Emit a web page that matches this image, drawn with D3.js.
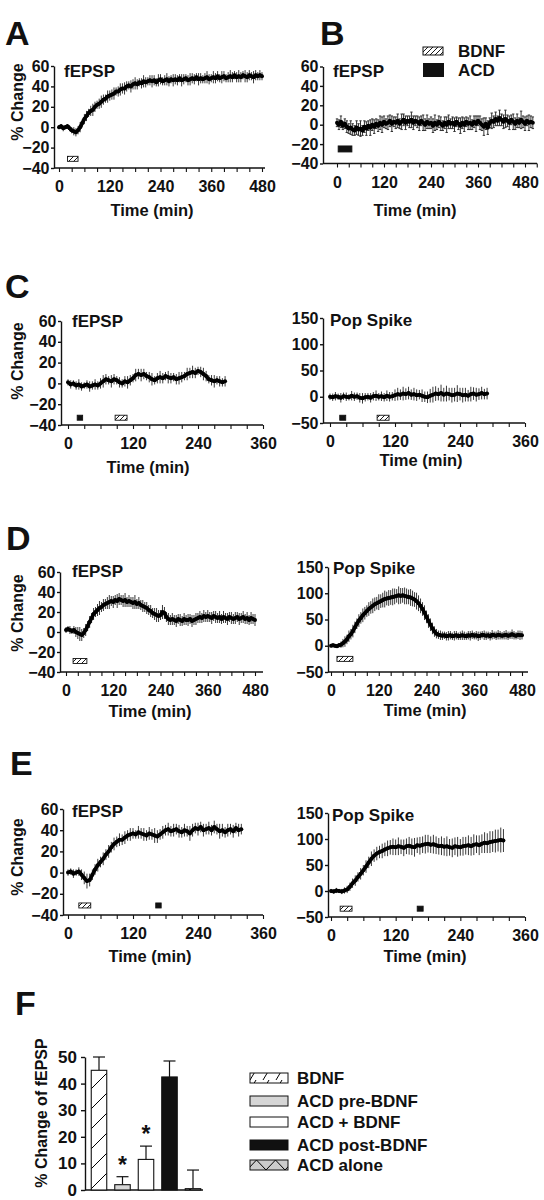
<!DOCTYPE html>
<html><head><meta charset="utf-8">
<script src="https://cdn.jsdelivr.net/npm/d3@7/dist/d3.min.js"></script>
<style>
body{margin:0;background:#fff}
svg text{font-family:"Liberation Sans",Arial,Helvetica,sans-serif;font-weight:bold;fill:#111}
</style>
</head><body><svg id="fig" width="544" height="1200"></svg>
<script>
// sampling interval of the traces (min)
const STEP = 5;

// ---------- Panel A: BDNF, fEPSP (0..480 min) ----------
const aVals = [0,1,-1,0,1,-1,-3,-4,-5,-3,
  0,4,8,11,14,16,17,20,22,23,
  25,27,28,30,31,32,33,35,35,37,
  38,38,40,41,40,42,43,42,44,43,
  45,44,45,46,45,46,44,46,47,45,
  46,47,45,47,46,47,46,48,46,47,
  48,46,47,48,47,49,47,48,47,48,
  49,47,48,49,48,50,48,49,50,48,
  49,50,49,51,49,50,49,51,50,49,
  51,50,49,51,50,51,50];
const aErr = [2,2,3,2,2,3,3,4,4,4,
  5,4,5,5,4,5,6,5,4,5,
  6,5,4,6,5,5,6,4,5,6,
  5,6,5,4,6,5,6,5,4,5,
  6,5,4,5,6,5,4,6,5,4,
  5,6,5,4,6,5,5,4,6,5,
  4,5,6,5,5,4,6,5,4,5,
  6,5,4,6,5,5,4,6,5,4,
  5,6,5,4,5,6,5,4,6,5,
  5,4,6,5,4,5,4];
const stimA = [{type:"BDNF", start:20, end:45}];

// ---------- Panel B: ACD, fEPSP (0..500 min) ----------
const bVals = [2,0,3,-1,1,-2,-4,-3,-5,-6,
  -3,-5,-4,-6,-2,-4,-1,-3,0,-2,
  1,-1,2,0,3,1,2,4,1,3,
  2,4,1,3,5,2,4,3,5,2,
  4,3,1,4,2,0,3,1,2,-1,
  2,0,3,1,-1,2,0,3,1,2,
  0,3,1,-1,2,0,3,1,2,0,
  3,1,4,2,0,-2,1,-3,2,4,
  3,6,4,7,5,3,6,4,2,5,
  3,1,4,2,5,3,1,4,2,3,
  2];
const bErr = [4,5,6,4,5,6,5,7,6,5,
  7,6,8,5,6,7,5,8,6,7,
  5,6,7,8,6,5,7,6,8,5,
  6,7,5,8,6,7,5,6,8,7,
  5,6,7,5,8,6,7,5,6,7,
  8,5,6,7,5,6,8,7,5,6,
  7,5,6,8,6,7,5,6,7,5,
  6,8,5,7,6,9,6,7,5,8,
  6,7,5,8,6,7,9,6,7,5,
  8,6,7,5,9,6,7,5,8,6,
  6];
const stimB = [{type:"ACD", start:3, end:38}];

// ---------- Panel C: ACD then BDNF (0..290 min) ----------
const cfVals = [1,-1,0,-2,-1,-3,-2,-1,-3,-2,
  -1,-2,0,2,4,3,2,4,3,1,
  0,2,1,3,5,8,9,8,9,7,
  6,4,3,5,6,5,7,6,5,6,
  4,5,6,7,9,10,11,10,12,11,
  9,7,4,3,2,3,2,1,2];
const cfErr = [3,4,3,4,5,4,3,4,5,4,
  5,4,5,6,5,4,6,5,4,5,
  4,5,6,5,4,6,5,6,5,4,
  5,6,4,5,6,5,4,6,5,4,
  5,6,5,4,6,5,6,5,4,5,
  6,5,4,5,6,4,5,4,5];
const cpVals = [0,-1,1,0,-2,1,0,-1,2,0,
  1,-2,-3,-1,0,-2,1,2,0,1,
  -1,2,0,1,3,5,4,6,5,7,
  4,5,3,4,2,0,-1,2,4,6,
  5,7,4,6,5,3,4,6,5,3,
  4,2,5,6,4,5,7,5,6];
const cpErr = [6,7,8,6,9,7,8,6,9,8,
  7,9,10,8,7,9,8,10,7,9,
  8,10,9,8,11,12,10,13,11,12,
  10,12,11,9,12,10,11,13,15,14,
  12,16,13,15,12,14,13,16,12,14,
  13,11,14,12,13,11,12,10,11];
const stimCf = [{type:"ACD", start:17, end:27},{type:"BDNF", start:87, end:109}];
const stimCp = [{type:"ACD", start:18, end:29},{type:"BDNF", start:87, end:109}];

// ---------- Panel D: BDNF (0..480 min) ----------
const dfVals = [2,3,2,1,2,0,-1,-2,-3,-1,
  2,6,10,14,18,20,22,24,25,27,
  28,29,30,31,30,32,31,33,32,31,
  32,30,31,30,29,30,28,29,27,26,
  25,24,22,21,19,18,17,16,17,20,
  19,15,13,12,13,12,11,13,12,11,
  13,12,12,13,11,12,13,14,15,14,
  16,15,16,15,14,16,15,14,15,13,
  15,14,13,15,14,13,14,15,13,14,
  15,13,14,12,14,13,12];
const dfErr = [3,3,4,3,4,5,6,7,6,5,
  6,5,6,5,6,5,6,7,5,6,
  5,6,7,5,6,5,7,6,5,6,
  7,5,6,5,6,7,5,6,5,6,
  5,6,5,6,5,6,7,6,5,7,
  6,5,6,5,6,5,6,5,6,5,
  6,5,6,5,6,5,6,5,6,5,
  6,5,6,5,6,5,6,5,6,5,
  6,5,6,5,6,5,6,5,6,5,
  6,5,6,5,6,5,6];
const dpVals = [0,1,0,-1,1,2,5,8,12,18,
  22,28,35,42,48,53,58,62,66,70,
  73,76,79,81,83,85,87,89,90,91,
  92,93,94,95,96,95,96,95,94,93,
  92,90,88,85,81,76,70,63,55,47,
  40,33,27,23,21,20,19,20,18,19,
  20,18,19,20,18,19,20,19,18,20,
  19,21,19,20,18,19,21,20,19,20,
  18,21,20,19,21,20,19,20,21,19,
  20,22,20,19,21,20,20];
const dpErr = [3,3,3,3,4,6,8,10,9,11,
  10,12,11,10,12,11,13,12,11,13,
  12,14,13,12,15,13,14,16,13,15,
  14,16,15,13,17,15,14,16,15,14,
  16,15,14,16,15,14,13,14,12,13,
  12,11,10,9,8,9,8,7,8,9,
  8,7,9,8,7,8,9,8,7,8,
  9,8,7,8,9,8,7,9,8,7,
  8,9,7,8,9,8,7,8,9,8,
  7,9,8,7,8,9,8];
const stimDf = [{type:"BDNF", start:18, end:53}];
const stimDp = [{type:"BDNF", start:15, end:55}];

// ---------- Panel E: BDNF then ACD (0..320 min) ----------
const efVals = [0,1,-1,0,1,-2,-5,-8,-7,-2,
  3,7,10,13,17,20,24,27,29,31,
  31,33,35,36,37,36,38,37,36,35,
  37,36,35,34,36,38,40,41,39,40,
  41,39,38,40,39,37,40,42,41,43,
  40,41,42,40,43,41,39,40,38,40,
  41,39,42,40,41];
const efErr = [3,3,4,3,4,5,6,7,6,5,
  5,6,5,6,5,6,5,6,5,6,
  5,6,5,6,5,4,6,5,6,5,
  6,5,7,6,5,6,5,6,5,6,
  5,6,5,6,5,7,6,5,6,5,
  6,5,6,5,6,5,7,6,5,6,
  5,6,5,6,5];
const epVals = [0,-1,1,0,-1,1,3,8,15,20,
  27,33,40,47,55,62,68,72,75,77,
  80,82,84,85,84,86,85,83,86,87,
  85,84,88,87,89,90,91,89,90,88,
  86,87,85,86,84,83,86,85,84,86,
  87,88,86,89,90,88,91,93,92,94,
  95,96,97,98,97];
const epErr = [4,4,5,4,5,6,7,8,9,10,
  9,11,10,12,11,14,12,13,12,14,
  13,15,14,16,15,17,14,16,15,17,
  16,18,15,17,16,18,17,16,18,17,
  16,18,17,19,16,18,17,19,16,18,
  17,19,18,20,17,19,18,20,19,21,
  20,22,21,24,22];
const stimEf = [{type:"BDNF", start:20, end:42},{type:"ACD", start:162, end:172}];
const stimEp = [{type:"BDNF", start:17, end:39},{type:"ACD", start:160, end:171}];

// ---------- Panel F: summary bars ----------
const fCategories = ["BDNF","ACD pre-BDNF","ACD + BDNF","ACD post-BDNF","ACD alone"];
const fValues = [45, 2, 11.5, 42.5, 0.5];
const fErrors = [5, 3, 5, 6, 7];
const fSignif = [false, true, true, false, false];
const fYTicks = [0,10,20,30,40,50];

const fepspTicks = [-40,-20,0,20,40,60];
const popTicks = [-50,0,50,100,150];

// ---------------- drawing ----------------
const svg = d3.select("#fig");
const defs = svg.append("defs");
function pat(id,w,h,bg,d,sw){
  const p = defs.append("pattern").attr("id",id).attr("patternUnits","userSpaceOnUse").attr("width",w).attr("height",h);
  p.append("rect").attr("width",w).attr("height",h).attr("fill",bg);
  p.append("path").attr("d",d).attr("stroke","#000").attr("stroke-width",sw).attr("fill","none");
}
pat("hs",5,5,"#fff","M-1,1L1,-1M0,5L5,0M4,6L6,4",0.9);
pat("hf",20,20,"#fff","M0,20L20,0M-5,5L5,-5M15,25L25,15",1);
pat("hl",13,10,"#fff","M3,10L9,0",1);
pat("tri",19,10,"#ccc","M0,10L9.5,0L19,10",1);

const TICK_FS = 16;
const panels = [
  {vals:aVals, errs:aErr, stim:stimA, stimY:-31, yDom:[-40,60], yTicks:fepspTicks, px:[59,262], xLabMax:480, tickMax:480, py:[168,66], axX:54, axEnd:265, name:"fEPSP", nameXY:[64,77], yTitle:[17,102], tTitle:[152,210]},
  {vals:bVals, errs:bErr, caps:true, stim:stimB, stimY:-25, stimH:6, yDom:[-40,60], yTicks:fepspTicks, px:[337,525], xLabMax:480, tickMax:510, py:[163.5,66.5], axX:323, axEnd:537, name:"fEPSP", nameXY:[333,77], yTitle:null, tTitle:[415,210]},
  {vals:cfVals, errs:cfErr, stim:stimCf, stimY:-33, yDom:[-40,60], yTicks:fepspTicks, px:[68,263], xLabMax:360, tickMax:360, py:[425,321], axX:61, axEnd:263, name:"fEPSP", nameXY:[72,327], yTitle:[17,361], tTitle:[148,467]},
  {vals:cpVals, errs:cpErr, stim:stimCp, stimY:-40, yDom:[-50,150], yTicks:popTicks, px:[330,525], xLabMax:360, tickMax:360, py:[423,318], axX:323, axEnd:525, name:"Pop Spike", nameXY:[330,326], yTitle:null, tTitle:[421,460]},
  {vals:dfVals, errs:dfErr, stim:stimDf, stimY:-29, yDom:[-40,60], yTicks:fepspTicks, px:[66,255], xLabMax:480, tickMax:480, py:[672,572], axX:60, axEnd:263, name:"fEPSP", nameXY:[72,577], yTitle:[17,613], tTitle:[150,711]},
  {vals:dpVals, errs:dpErr, stim:stimDp, stimY:-25, yDom:[-50,150], yTicks:popTicks, px:[331,522], xLabMax:480, tickMax:480, py:[672,567], axX:328, axEnd:528, name:"Pop Spike", nameXY:[333,574], yTitle:null, tTitle:[425,710]},
  {vals:efVals, errs:efErr, stim:stimEf, stimY:-31, yDom:[-40,60], yTicks:fepspTicks, px:[68,263], xLabMax:360, tickMax:360, py:[915,809], axX:63, axEnd:263, name:"fEPSP", nameXY:[72,817], yTitle:[17,857], tTitle:[150,956]},
  {vals:epVals, errs:epErr, stim:stimEp, stimY:-34, yDom:[-50,150], yTicks:popTicks, px:[331,525], xLabMax:360, tickMax:360, py:[917,813], axX:328, axEnd:525, name:"Pop Spike", nameXY:[332,821], yTitle:null, tTitle:[425,956]}
];

panels.forEach(p=>{
  const x = d3.scaleLinear().domain([0,p.xLabMax]).range(p.px);
  const y = d3.scaleLinear().domain(p.yDom).range(p.py);
  const g = svg.append("g");
  // y axis
  const ya = g.append("g").attr("transform",`translate(${p.axX},0)`)
    .call(d3.axisLeft(y).tickValues(p.yTicks).tickSize(3).tickPadding(1.5).tickSizeOuter(0));
  ya.selectAll("text").attr("font-size",TICK_FS).attr("fill","#111");
  ya.selectAll("line,path").attr("stroke","#111").attr("stroke-width",1.4);
  // x axis
  const tv = d3.range(0,p.tickMax+1,30);
  const xa = g.append("g").attr("transform",`translate(0,${p.py[0]})`)
    .call(d3.axisBottom(x).tickValues(tv).tickSize(4).tickPadding(9).tickFormat(d=>d%120===0?d:""));
  xa.select(".domain").remove();
  xa.append("line").attr("x1",p.axX).attr("x2",p.axEnd).attr("stroke","#111").attr("stroke-width",1.4);
  xa.selectAll("text").attr("font-size",TICK_FS).attr("fill","#111");
  xa.selectAll(".tick line").attr("stroke","#111").attr("stroke-width",1.1);
  // error bars
  const pts = p.vals.map((v,i)=>({t:i*STEP, v:v, e:p.errs[i]}));
  g.append("path").attr("fill","none").attr("stroke", p.caps ? "#333" : "#3a3a3a").attr("stroke-width",1)
    .attr("d", pts.map(d=>{const xx=x(d.t), y1=y(d.v+d.e), y0=y(d.v-d.e);
      return `M${xx},${y0}V${y1}` + (p.caps ? `M${xx-1.2},${y1}h2.4M${xx-1.2},${y0}h2.4` : "");}).join(""));
  // mean trace
  g.append("path").datum(pts).attr("fill","none").attr("stroke","#000").attr("stroke-width",3.6)
    .attr("stroke-linejoin","round").attr("d", d3.line().x(d=>x(d.t)).y(d=>y(d.v)));
  g.selectAll("circle.pt").data(pts).join("circle").attr("cx",d=>x(d.t)).attr("cy",d=>y(d.v)).attr("r",2).attr("fill","#000");
  // stimulus bars
  const sh = p.stimH || 5;
  p.stim.forEach(s=>{
    g.append("rect").attr("x",x(s.start)).attr("width",x(s.end)-x(s.start))
      .attr("y",y(p.stimY)-sh/2).attr("height",sh)
      .attr("fill", s.type==="BDNF" ? "url(#hs)" : "#111")
      .attr("stroke","#111").attr("stroke-width",0.9);
  });
  // labels
  g.append("text").attr("x",p.nameXY[0]).attr("y",p.nameXY[1]).attr("font-size",17).text(p.name);
  if(p.yTitle){
    g.append("text").attr("transform",`translate(${p.yTitle[0]},${p.yTitle[1]}) rotate(-90)`)
      .attr("text-anchor","middle").attr("dominant-baseline","central").attr("font-size",16).text("% Change");
  }
  g.append("text").attr("x",p.tTitle[0]).attr("y",p.tTitle[1]).attr("text-anchor","middle")
    .attr("dominant-baseline","central").attr("font-size",16.5).text("Time (min)");
});

// panel letters
[["A",5,45],["B",320,45],["C",5,298],["D",6,550],["E",10,775],["F",15,1015]].forEach(l=>{
  svg.append("text").attr("x",l[1]).attr("y",l[2]).attr("font-size",34).text(l[0]);
});

// legend in B
svg.append("rect").attr("x",423).attr("y",47).attr("width",20).attr("height",8).attr("fill","url(#hs)").attr("stroke","#111");
svg.append("rect").attr("x",423).attr("y",63).attr("width",21).attr("height",14).attr("fill","#111");
svg.append("text").attr("x",458).attr("y",57).attr("font-size",17).text("BDNF");
svg.append("text").attr("x",458).attr("y",76).attr("font-size",17).text("ACD");

// ---------- Panel F ----------
const fFills = ["url(#hf)","#d6d6d6","#fff","#111","url(#tri)"];
const fx = d3.scalePoint().domain(fCategories).range([99,193]);
const fy = d3.scaleLinear().domain([0,50]).range([1190,1057]);
const gF = svg.append("g");
const fya = gF.append("g").attr("transform","translate(85,0)")
  .call(d3.axisLeft(fy).tickValues(fYTicks).tickSize(4).tickPadding(4).tickSizeOuter(0));
fya.selectAll("text").attr("font-size",17).attr("fill","#111");
fya.selectAll("line,path").attr("stroke","#111").attr("stroke-width",1.4);
gF.append("line").attr("x1",85).attr("x2",203).attr("y1",1190).attr("y2",1190).attr("stroke","#111").attr("stroke-width",1.4);
const bw = 15.5;
fCategories.forEach((c,i)=>{
  const cx = fx(c), v = fValues[i], e = fErrors[i];
  gF.append("line").attr("x1",cx).attr("x2",cx).attr("y1",fy(v)).attr("y2",fy(v+e)).attr("stroke","#111").attr("stroke-width",1.2);
  gF.append("line").attr("x1",cx-6).attr("x2",cx+6).attr("y1",fy(v+e)).attr("y2",fy(v+e)).attr("stroke","#111").attr("stroke-width",1.2);
  gF.append("rect").attr("x",cx-bw/2).attr("width",bw).attr("y",fy(v)).attr("height",fy(0)-fy(v))
    .attr("fill",fFills[i]).attr("stroke","#111").attr("stroke-width",1.1);
  if(fSignif[i]){
    gF.append("text").attr("x",cx).attr("y",fy(v+e)-4).attr("text-anchor","middle").attr("font-size",23).text("*");
  }
});
gF.append("text").attr("transform","translate(41,1113) rotate(-90)").attr("text-anchor","middle")
  .attr("dominant-baseline","central").attr("font-size",16).text("% Change of fEPSP");
// legend F
const legRows = [1078,1101,1122,1145,1165];
fCategories.forEach((c,i)=>{
  gF.append("rect").attr("x",250).attr("y",legRows[i]-5).attr("width",38).attr("height",10)
    .attr("fill", i===0 ? "url(#hl)" : fFills[i]).attr("stroke","#111").attr("stroke-width",1);
  gF.append("text").attr("x",297).attr("y",legRows[i]).attr("dominant-baseline","central").attr("font-size",17).text(c);
});
</script>
</body></html>
